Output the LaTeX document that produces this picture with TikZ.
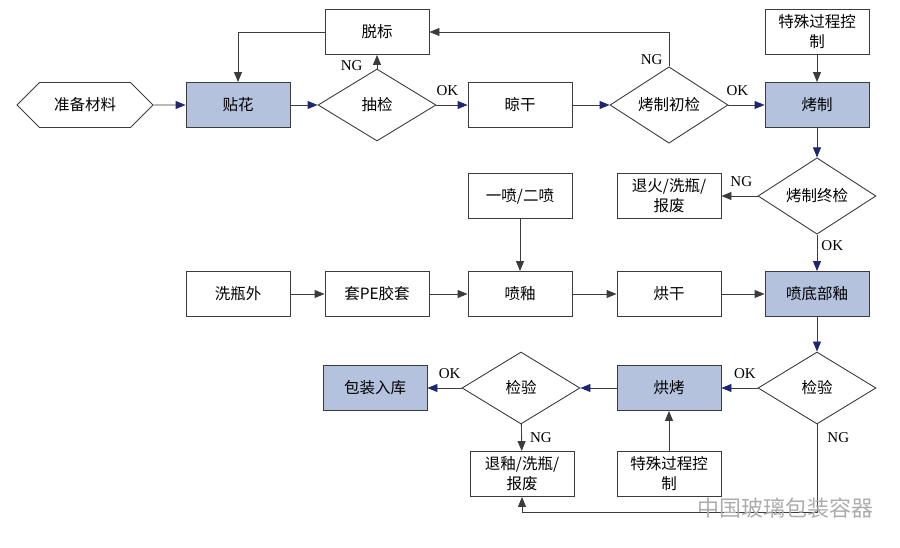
\documentclass[tikz,border=0pt]{standalone}
\usepackage{fontspec}
\setmainfont{Liberation Serif}
\newfontfamily\cjk{Noto Sans CJK SC}
\usetikzlibrary{shapes.geometric,shapes.symbols,arrows.meta}
\definecolor{keyfill}{RGB}{180,194,222}
\definecolor{flowblue}{RGB}{30,38,115}
\definecolor{linegray}{RGB}{60,60,60}
\tikzset{
  txt/.style={font=\cjk\fontsize{15.5}{20}\selectfont},
  box/.style={txt, draw=linegray, line width=0.9pt, minimum width=104pt, minimum height=45pt, inner sep=1pt, align=center},
  keybox/.style={box, fill=keyfill},
  check/.style={txt, draw=linegray, line width=0.9pt, diamond, minimum width=118pt, minimum height=72pt, inner sep=0pt},
  startbox/.style={txt, draw=linegray, line width=0.9pt, signal, signal to=west and east, signal pointer angle=90, minimum width=136pt, minimum height=45pt, inner sep=0pt},
  arr/.style={draw=linegray, line width=0.9pt, -{Triangle[length=10pt,width=8pt]}},
  blarr/.style={draw=linegray, line width=0.9pt, -{Triangle[length=10pt,width=8pt,color=flowblue]}},
  tag/.style={font=\fontsize{15}{17}\selectfont, inner sep=4pt}
}
\begin{document}
\begin{tikzpicture}[x=1pt,y=-1pt]
  \useasboundingbox (0,0) rectangle (900,548);

  % top row
  \node[startbox] (zb) at (85,105) {准备材料};
  \node[keybox] (th) at (238,105) {贴花};
  \node[check] (cj) at (377,105) {抽检};
  \node[box] (tb) at (377,32) {脱标};
  \node[box] (lg) at (520,105) {晾干};
  \node[check] (kc) at (669,105) {烤制初检};
  \node[box] (ts1) at (817,32) {特殊过程控\\制};
  \node[keybox] (kz) at (817,105) {烤制};

  \draw[blarr] (zb) -- (th);
  \draw[blarr] (th) -- (cj);
  \draw[arr] (cj) -- (tb) node[pos=0.2, left=10pt, tag] {NG};
  \draw[arr] (tb.west) -| (th.north);
  \draw[blarr] (cj) -- (lg) node[pos=0.35, above=5pt, tag] {OK};
  \draw[blarr] (lg) -- (kc);
  \draw[arr] (kc.north) |- (tb.east) node[pos=0.1, left=2pt, tag] {NG};
  \draw[blarr] (kc) -- (kz) node[pos=0.25, above=5pt, tag] {OK};
  \draw[arr] (ts1) -- (kz);

  % middle
  \node[check] (kz2) at (817,196) {烤制终检};
  \node[box] (th1) at (669,196) {退火/洗瓶/\\报废};
  \node[box] (yp) at (520,196) {一喷/二喷};
  \node[box] (xp) at (238,294) {洗瓶外};
  \node[box] (tp) at (377,294) {套PE胶套};
  \node[box] (py) at (520,294) {喷釉};
  \node[box] (hg) at (669,294) {烘干};
  \node[keybox] (dy) at (817,294) {喷底部釉};

  \draw[blarr] (kz) -- (kz2);
  \draw[arr] (kz2) -- (th1) node[pos=0.45, above=5pt, tag] {NG};
  \draw[blarr] (kz2) -- (dy) node[pos=0.3, right, tag] {OK};
  \draw[arr] (yp) -- (py);
  \draw[arr] (xp) -- (tp);
  \draw[arr] (tp) -- (py);
  \draw[arr] (py) -- (hg);
  \draw[arr] (hg) -- (dy);

  % bottom row
  \node[check] (jy2) at (817,388) {检验};
  \node[keybox] (hk) at (669,388) {烘烤};
  \node[check] (jy1) at (521,388) {检验};
  \node[keybox] (bz) at (375,388) {包装入库};
  \node[box] (ty) at (522,474) {退釉/洗瓶/\\报废};
  \node[box] (ts2) at (669,474) {特殊过程控\\制};
  \coordinate (back) at (817,512);

  \draw[blarr] (dy) -- (jy2);
  \draw[blarr] (jy2) -- (hk) node[pos=0.35, above=5pt, tag] {OK};
  \draw[blarr] (hk) -- (jy1);
  \draw[blarr] (jy1) -- (bz) node[pos=0.35, above=5pt, tag] {OK};
  \draw[arr] (jy1) -- (ty) node[midway, right=4pt, tag] {NG};
  \draw[arr] (ts2) -- (hk);
  \draw[arr] (jy2.south) -- (back) node[pos=0.15, right=6pt, tag] {NG} -| (ty.south);

  \node[txt, text=gray!65, font=\cjk\fontsize{22}{26}\selectfont] (wm) at (785,508) {中国玻璃包装容器};
\end{tikzpicture}
\end{document}
